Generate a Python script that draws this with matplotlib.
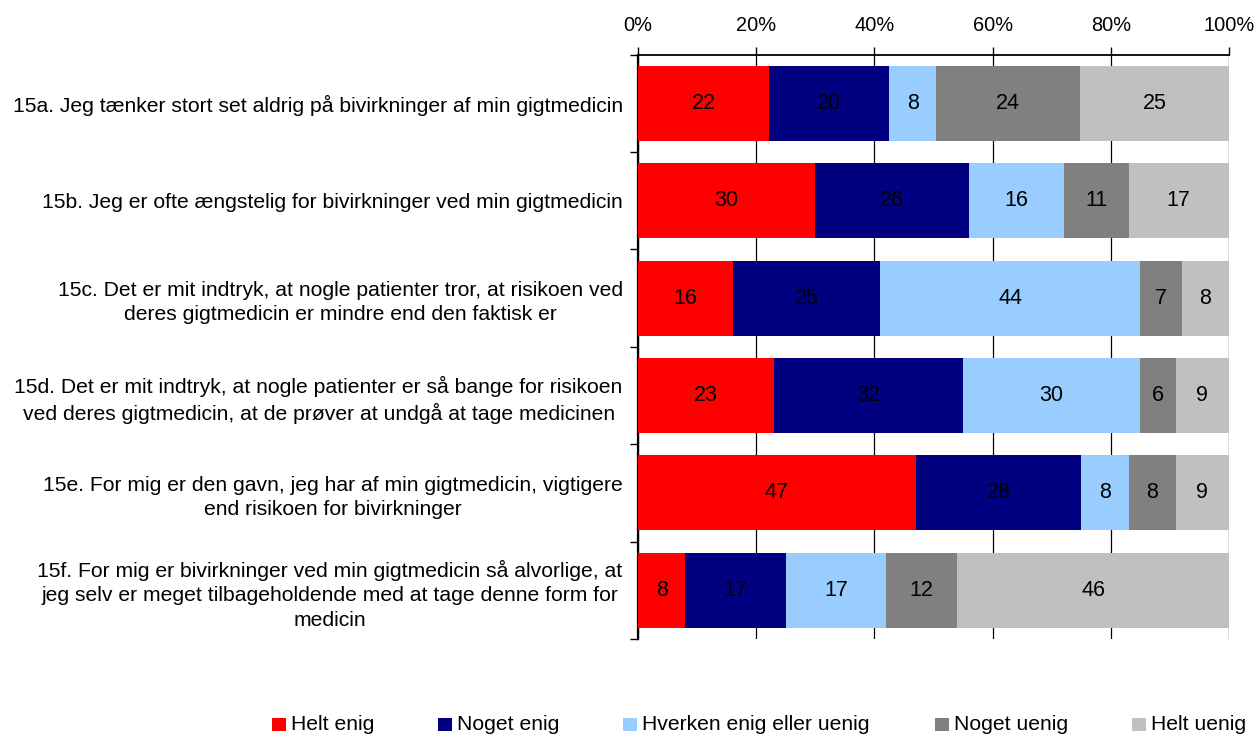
import matplotlib
matplotlib.use("Agg")
import matplotlib.pyplot as plt
import matplotlib.patches as mpatches
import numpy as np

plt.rcParams["font.family"] = ["Liberation Sans", "DejaVu Sans"]

questions = [
    "15a. Jeg tænker stort set aldrig på bivirkninger af min gigtmedicin",
    "15b. Jeg er ofte ængstelig for bivirkninger ved min gigtmedicin",
    "15c. Det er mit indtryk, at nogle patienter tror, at risikoen ved\nderes gigtmedicin er mindre end den faktisk er",
    "15d. Det er mit indtryk, at nogle patienter er så bange for risikoen\nved deres gigtmedicin, at de prøver at undgå at tage medicinen",
    "15e. For mig er den gavn, jeg har af min gigtmedicin, vigtigere\nend risikoen for bivirkninger",
    "15f. For mig er bivirkninger ved min gigtmedicin så alvorlige, at\njeg selv er meget tilbageholdende med at tage denne form for\nmedicin",
]
series_names = ["Helt enig", "Noget enig", "Hverken enig eller uenig", "Noget uenig", "Helt uenig"]
helt_enig   = [22, 30, 16, 23, 47, 8]
noget_enig  = [20, 26, 25, 32, 28, 17]
hverken     = [8, 16, 44, 30, 8, 17]
noget_uenig = [24, 11, 7, 6, 8, 12]
helt_uenig  = [25, 17, 8, 9, 9, 46]
colors = ["#FF0000", "#000080", "#99CCFF", "#808080", "#C0C0C0"]

W, H, DPI = 1259, 736, 100
FS = 15.2
fig = plt.figure(figsize=(W / DPI, H / DPI), dpi=DPI, facecolor="white")
ax = fig.add_axes([638 / W, 1 - 639 / H, (1229 - 638) / W, (639 - 54.5) / H])

data = np.array([helt_enig, noget_enig, hverken, noget_uenig, helt_uenig], dtype=float)
shares = data / data.sum(axis=0) * 100
y = np.arange(len(questions))
left = np.zeros(len(questions))
for vals, pct, col in zip(data, shares, colors):
    ax.barh(y, pct, left=left, height=0.77, color=col, zorder=3)
    for yi, l, p, v in zip(y, left, pct, vals):
        ax.text(l + p / 2, yi, f"{v:.0f}", ha="center", va="center", fontsize=FS + 0.3,
                color="black", zorder=4)
    left += pct

ax.set_xlim(0, 100)
ax.set_ylim(len(questions) - 0.5, -0.5)
ax.xaxis.tick_top()
ax.set_xticks(np.arange(0, 101, 20))
ax.set_xticklabels([f"{t}%" for t in range(0, 101, 20)], fontsize=14.4)
ax.tick_params(axis="x", length=6, width=1, pad=8, color="black")
ax.xaxis.grid(True, color="black", linewidth=0.9, zorder=0)
ax.set_axisbelow(True)

ax.set_yticks(np.arange(-0.5, len(questions), 1.0))
ax.set_yticklabels([])
ax.tick_params(axis="y", which="major", length=6, width=1, color="black")
ax.set_yticks(y, minor=True)
ax.set_yticklabels(questions, minor=True, fontsize=FS, multialignment="center", linespacing=1.35)
ax.tick_params(axis="y", which="minor", length=0, pad=11)

for s in ["right", "bottom"]:
    ax.spines[s].set_visible(False)
ax.spines["top"].set_linewidth(1.3)
ax.spines["left"].set_linewidth(1.6)

# legend along the bottom
leg_x = [272, 438, 623, 935, 1132]
for name, col, lx in zip(series_names, colors, leg_x):
    fig.patches.append(mpatches.Rectangle((lx / W, 1 - 731 / H), 14 / W, 13 / H,
                                          transform=fig.transFigure, facecolor=col, edgecolor="none"))
    fig.text((lx + 19) / W, 1 - 724 / H, name, ha="left", va="center", fontsize=FS)

fig.savefig("out.png", dpi=DPI, facecolor="white")
